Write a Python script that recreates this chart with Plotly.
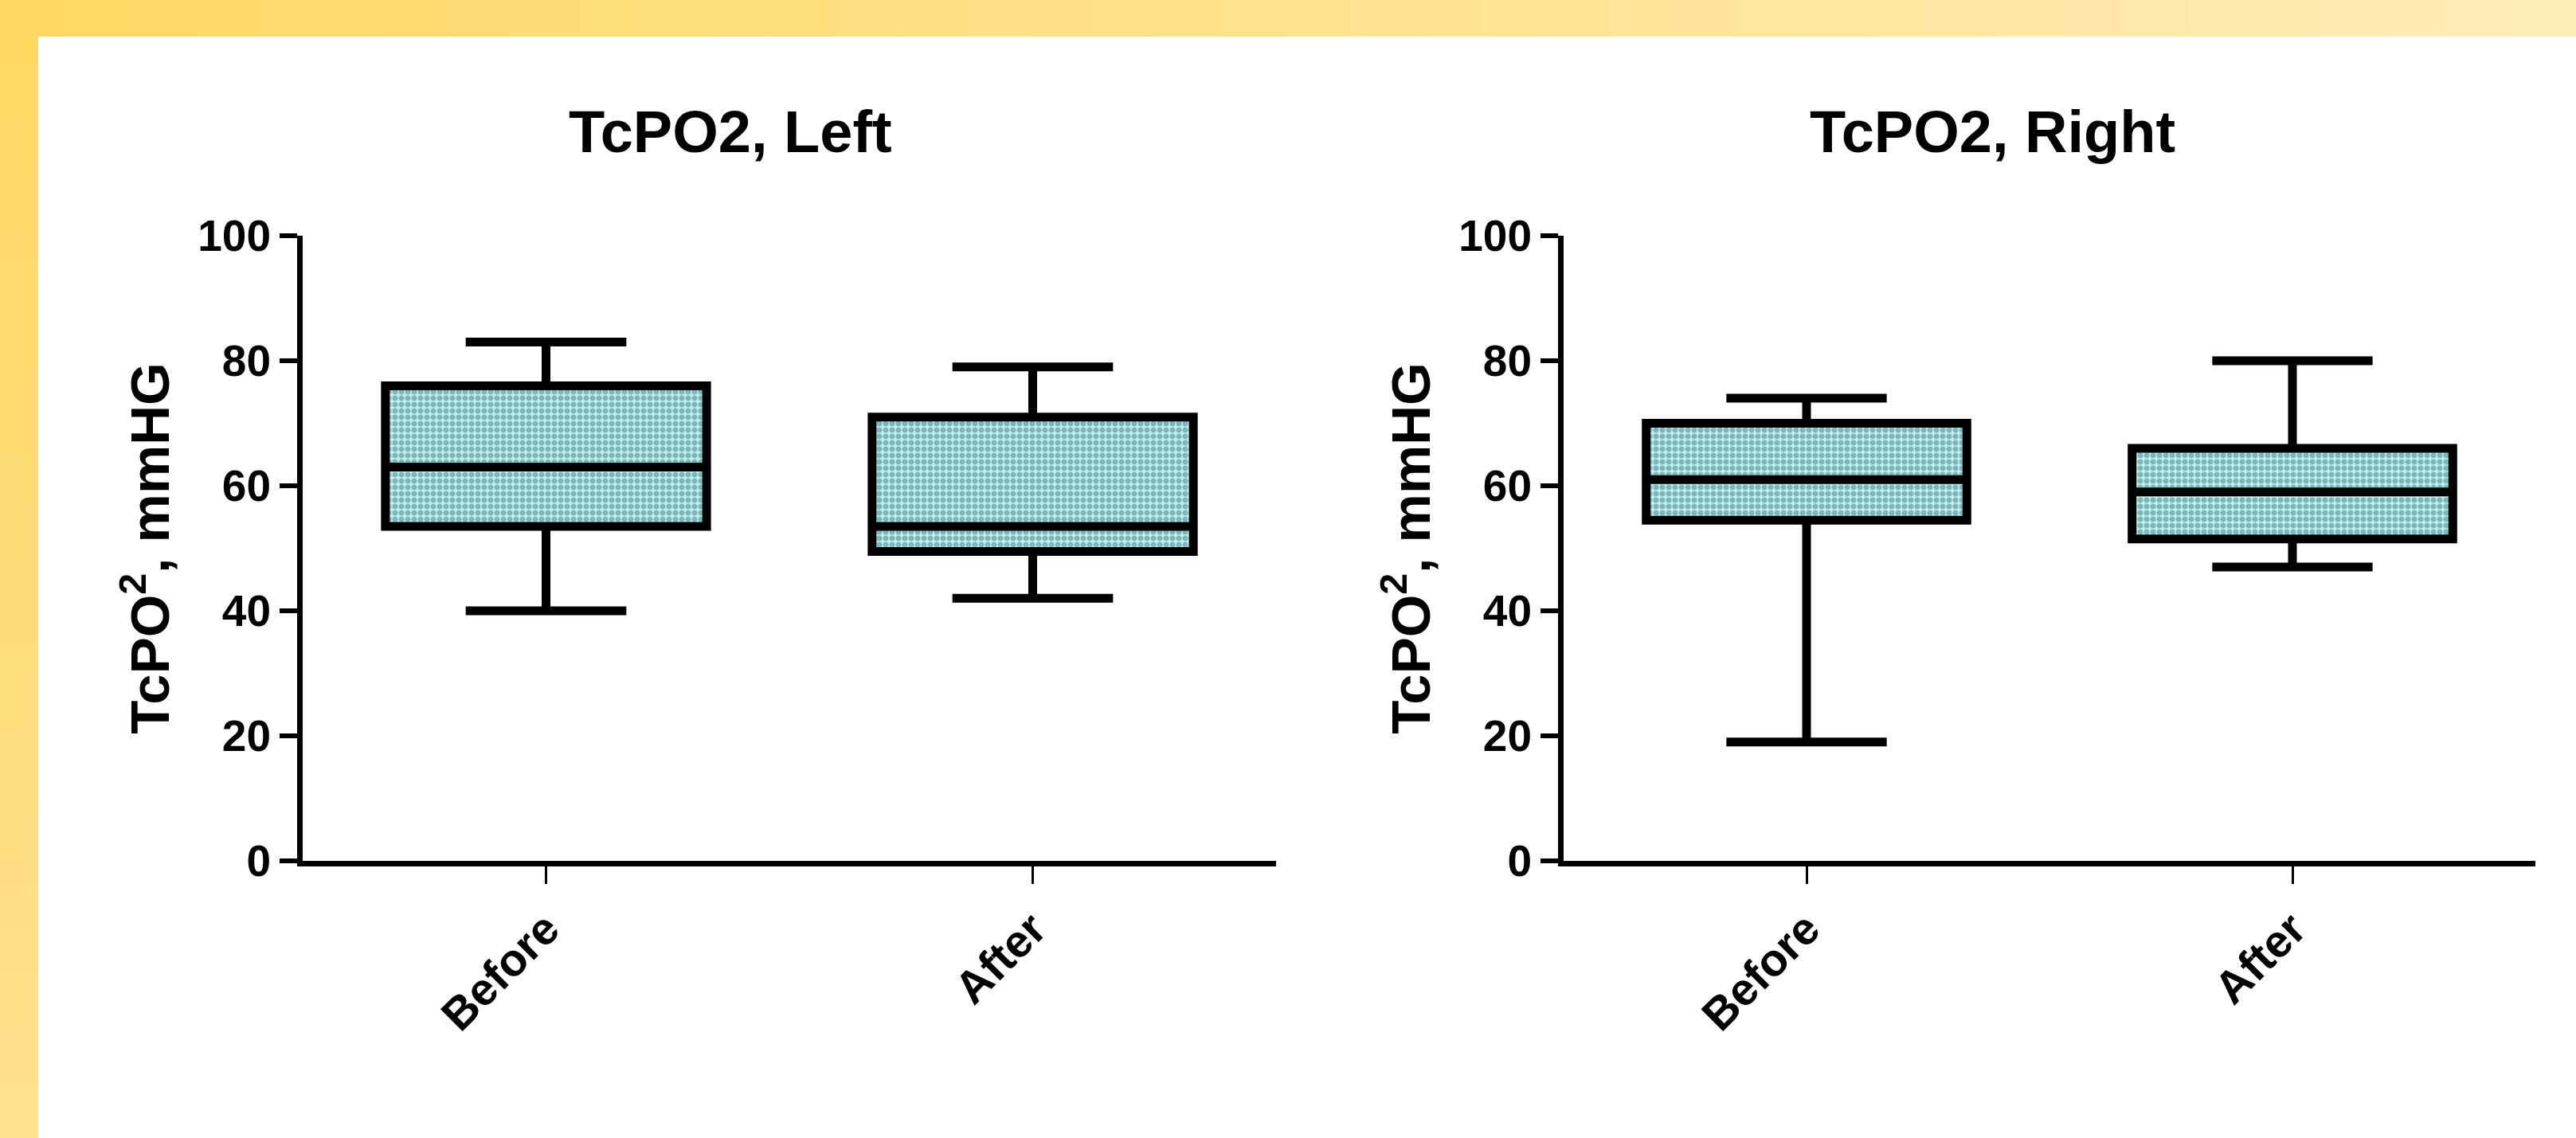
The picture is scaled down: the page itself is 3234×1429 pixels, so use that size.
import plotly.graph_objects as go

# ---------------- data ----------------
categories = ["Before", "After"]

left_min = [40, 42]
left_q1 = [53.5, 49.5]
left_median = [63, 53.5]
left_q3 = [76, 71]
left_max = [83, 79]

right_min = [19, 47]
right_q1 = [54.5, 51.5]
right_median = [61, 59]
right_q3 = [70, 66]
right_max = [74, 80]

y_ticks = [0, 20, 40, 60, 80, 100]
titles = ["TcPO2, Left", "TcPO2, Right"]
y_title = "TcPO<sup>2</sup>, mmHG"

# ---------------- figure ----------------
W, H = 3234, 1429
FONT = "Arial, Liberation Sans, Helvetica, sans-serif"

fig = go.Figure()

panels = [
    ("x", "y", left_min, left_q1, left_median, left_q3, left_max),
    ("x2", "y2", right_min, right_q1, right_median, right_q3, right_max),
]
BOXW = 0.66
for xa, ya, mn, q1, md, q3, mx in panels:
    # patterned fill of the interquartile box
    fig.add_trace(go.Bar(
        x=categories, base=q1, y=[b - a for a, b in zip(q1, q3)],
        width=BOXW, xaxis=xa, yaxis=ya, showlegend=False, hoverinfo="skip",
        marker=dict(color="#c0ecee", line=dict(width=0),
                    pattern=dict(shape=".", fgcolor="#3a7f83", bgcolor="#c4f0f2",
                                 size=8, solidity=0.6)),
    ))
    fig.add_trace(go.Box(
        x=categories, q1=q1, median=md, q3=q3, lowerfence=mn, upperfence=mx,
        xaxis=xa, yaxis=ya, width=BOXW, whiskerwidth=0.5, boxpoints=False,
        fillcolor="rgba(0,0,0,0)", line=dict(color="black", width=11),
        showlegend=False,
    ))

def px_x(p):
    return p / W

def px_y(p):
    return 1 - p / H

axis_common = dict(
    showline=True, linecolor="black", linewidth=7, showgrid=False, zeroline=False,
    ticks="outside", tickcolor="black", automargin=False,
    tickfont=dict(family=FONT, size=55, color="black", weight="bold"),
)
ydom = [px_y(1081), px_y(296)]
xdoms = [[px_x(380), px_x(1602)], [px_x(1963), px_x(3183)]]

layout_axes = {}
for i, (xn, yn) in enumerate([("xaxis", "yaxis"), ("xaxis2", "yaxis2")]):
    layout_axes[xn] = dict(
        axis_common, domain=xdoms[i], anchor="y" if i == 0 else "y2",
        type="category", range=[-0.5, 1.5], tickangle=-45, ticklen=22, tickwidth=3,
        tickfont=dict(family=FONT, size=57, color="black", weight="bold"),
    )
    layout_axes[yn] = dict(
        axis_common, domain=ydom, anchor="x" if i == 0 else "x2",
        range=[0, 100], tickvals=y_ticks, ticklen=22, tickwidth=6,
        title=dict(text=y_title, standoff=16,
                   font=dict(family=FONT, size=69, color="black", weight="bold")),
    )

# background frame: yellow gradient bands (top and left)
shapes = []
N = 40
c0 = (255, 216, 100)
c1 = (255, 236, 182)
for k in range(N):
    t = k / (N - 1)
    col = "rgb(%d,%d,%d)" % tuple(round(a + (b - a) * t) for a, b in zip(c0, c1))
    shapes.append(dict(type="rect", xref="paper", yref="paper",
                       x0=k / N, x1=(k + 1) / N + 0.001, y0=px_y(46), y1=1,
                       fillcolor=col, line=dict(width=0), layer="below"))
c2 = (255, 224, 140)
for k in range(N):
    t = k / (N - 1)
    col = "rgb(%d,%d,%d)" % tuple(round(a + (b - a) * t) for a, b in zip(c0, c2))
    y_top = 46 + (H - 46) * k / N
    y_bot = 46 + (H - 46) * (k + 1) / N + 1
    shapes.append(dict(type="rect", xref="paper", yref="paper",
                       x0=0, x1=px_x(48), y0=px_y(y_bot), y1=px_y(y_top),
                       fillcolor=col, line=dict(width=0), layer="below"))

annotations = []
for cx, txt in zip([917, 2501], titles):
    annotations.append(dict(
        text=txt, x=px_x(cx), y=px_y(165), xref="paper", yref="paper",
        xanchor="center", yanchor="middle", showarrow=False,
        font=dict(family=FONT, size=74, color="black", weight="bold"),
    ))

fig.update_layout(
    width=W, height=H, margin=dict(l=0, r=0, t=0, b=0, pad=0, autoexpand=False),
    paper_bgcolor="white", plot_bgcolor="rgba(0,0,0,0)",
    shapes=shapes, annotations=annotations, showlegend=False,
    bargap=0, boxmode="overlay", barmode="overlay",
    **layout_axes,
)

fig.write_html("out.html", post_script="document.body.style.margin='0';",
               config={"displayModeBar": False})
